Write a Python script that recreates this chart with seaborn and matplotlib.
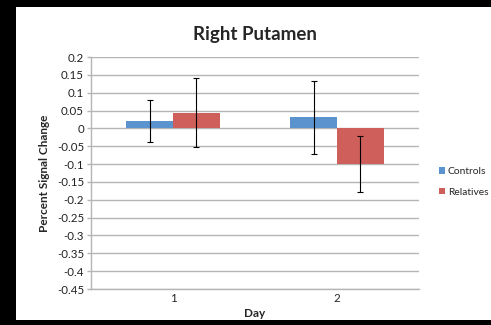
import matplotlib
matplotlib.use("Agg")
import matplotlib.pyplot as plt
from matplotlib.patches import Rectangle
import numpy as np
import pandas as pd
import seaborn as sns

# Data
days = ["1", "2"]
groups = ["Controls", "Relatives"]
controls_mean = [0.021, 0.031]
relatives_mean = [0.044, -0.0995]
controls_err = [0.059, 0.102]
relatives_err = [0.096, 0.078]
y_ticks = [0.2, 0.15, 0.1, 0.05, 0, -0.05, -0.1, -0.15, -0.2, -0.25,
           -0.3, -0.35, -0.4, -0.45]
colors = ["#5B93CF", "#CF5F5A"]

df = pd.DataFrame({
    "Day": days * 2,
    "Group": [groups[0]] * 2 + [groups[1]] * 2,
    "value": controls_mean + relatives_mean,
    "err": controls_err + relatives_err,
})

sns.set_theme(style="white")
plt.rcParams["font.family"] = ["Lato", "DejaVu Sans"]

W, H = 491, 325
fig = plt.figure(figsize=(W / 100, H / 100), dpi=100, facecolor="black")
# white chart sheet over the dark frame, drawn beneath the axes
sheet = Rectangle((16 / W, 5 / H), (W - 16) / W, (H - 12) / H,
                  transform=fig.transFigure, facecolor="white",
                  edgecolor="none", zorder=-10)
fig.patches.append(sheet)

ax = fig.add_axes([91 / W, 1 - 289 / H, (419 - 91) / W, (289 - 57) / H])
ax.set_facecolor("none")

sns.barplot(data=df, x="Day", y="value", hue="Group", hue_order=groups,
            order=days, palette=colors, width=0.57, errorbar=None,
            linewidth=0, saturation=1, ax=ax, zorder=3)

# error bars centred on each bar
for container, grp in zip(ax.containers, groups):
    sub = df[df["Group"] == grp].set_index("Day").loc[days]
    xs = [b.get_x() + b.get_width() / 2 for b in container]
    ax.errorbar(xs, sub["value"], yerr=sub["err"], fmt="none",
                ecolor="black", elinewidth=0.8, capsize=2.2,
                capthick=0.8, zorder=4)

ax.set_xlim(-0.5, len(days) - 0.5)
ax.set_ylim(-0.45, 0.2)
ax.set_yticks(y_ticks)
ax.set_yticklabels([("%g" % t) for t in y_ticks], fontsize=8.3, color="#222222")
ax.set_xticks(range(len(days)))
ax.set_xticklabels(days, fontsize=8.3, color="#222222")
ax.grid(axis="y", color="#b5b5b5", linewidth=1.0, zorder=0)
ax.set_axisbelow(True)
for s in ["top", "right"]:
    ax.spines[s].set_visible(False)
ax.spines["left"].set_color("#b5b5b5")
ax.spines["bottom"].set_color("#b5b5b5")
ax.spines["left"].set_linewidth(1.0)
ax.spines["bottom"].set_linewidth(1.0)
ax.tick_params(axis="y", which="major", left=True, length=3, width=1.0,
               color="#b5b5b5", pad=2)
ax.tick_params(axis="x", bottom=False, length=0, pad=3)

ax.set_xlabel("Day", fontsize=8.5, fontweight="bold", labelpad=3)
ax.set_ylabel("Percent Signal Change", fontsize=8.5, fontweight="bold",
              labelpad=5)
ax.set_title("Right Putamen", fontsize=13.5, fontweight="bold", pad=12)

leg = ax.legend(loc="center left", bbox_to_anchor=(439 / W, 1 - 182 / H),
                bbox_transform=fig.transFigure, frameon=False, fontsize=7.4,
                handlelength=0.6, handleheight=0.6, handletextpad=0.25,
                labelspacing=1.1, borderaxespad=0, borderpad=0)

fig.savefig("out.png", dpi=100, facecolor=fig.get_facecolor())
